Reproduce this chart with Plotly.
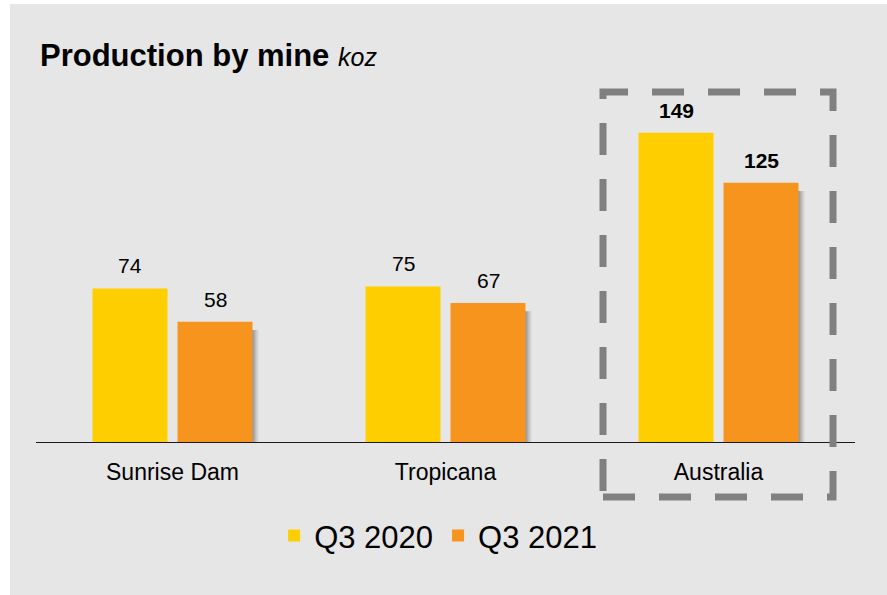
import plotly.graph_objects as go

categories = ["Sunrise Dam", "Tropicana", "Australia"]
q3_2020 = [74, 75, 149]
q3_2021 = [58, 67, 125]
series_names = ["Q3 2020", "Q3 2021"]
highlight = "Australia"

YELLOW = "#FFCE00"
ORANGE = "#F7941E"
BG = "#E6E6E6"
FONT = "Liberation Sans, Arial, sans-serif"

# geometry (category units: 1 category = 273 px)
CAT_PX = 273.0
BAR_W = 75 / CAT_PX
OFF_A = -80 / CAT_PX
OFF_B = 5 / CAT_PX

xs = list(range(len(categories)))

fig = go.Figure()

# soft shadow behind the orange bars
for dx, alpha in [(6, 0.10), (4, 0.16), (2, 0.22)]:
    fig.add_trace(go.Bar(
        x=xs, y=[v - 2.5 for v in q3_2021], base=-1.5,
        width=BAR_W, offset=OFF_B + dx / CAT_PX,
        marker=dict(color=f"rgba(60,60,60,{alpha})", line=dict(width=0)),
        showlegend=False, hoverinfo="skip"))

fig.add_trace(go.Bar(
    x=xs, y=q3_2020, name=series_names[0], width=BAR_W, offset=OFF_A,
    marker=dict(color=YELLOW, line=dict(width=0))))
fig.add_trace(go.Bar(
    x=xs, y=q3_2021, name=series_names[1], width=BAR_W, offset=OFF_B,
    marker=dict(color=ORANGE, line=dict(width=0))))

annotations = []
for i, cat in enumerate(categories):
    for vals, off in [(q3_2020, OFF_A), (q3_2021, OFF_B)]:
        v = vals[i]
        txt = f"<b>{v}</b>" if cat == highlight else str(v)
        annotations.append(dict(
            x=i + off + BAR_W / 2, y=v, xref="x", yref="y",
            text=txt, showarrow=False, yanchor="bottom", yshift=9,
            font=dict(size=21, color="#000000", family=FONT)))

hi = categories.index(highlight)
shapes = [
    # white strips at the left and top edge of the panel
    dict(type="rect", xref="paper", yref="paper",
         x0=-0.05, x1=-0.0317, y0=-0.5, y1=1.35,
         fillcolor="white", line=dict(width=0), layer="below"),
    dict(type="rect", xref="paper", yref="paper",
         x0=-0.05, x1=1.05, y0=1.319, y1=1.35,
         fillcolor="white", line=dict(width=0), layer="below"),
    # dashed highlight box
    dict(type="rect", xref="x", yref="paper",
         x0=hi - 115.5 / CAT_PX, x1=hi + 114.5 / CAT_PX,
         y0=-0.166, y1=1.054,
         line=dict(color="#808080", width=7, dash="32px,24px"),
         fillcolor="rgba(0,0,0,0)", layer="above"),
]

fig.update_layout(
    width=887, height=595,
    margin=dict(l=36, r=32, t=110, b=153, autoexpand=False),
    paper_bgcolor=BG, plot_bgcolor="rgba(0,0,0,0)",
    barmode="overlay",
    font=dict(family=FONT, color="#000000"),
    title=dict(
        text="<b>Production by mine</b> <i><span style='font-size:25px'>koz</span></i>",
        x=40 / 887, xanchor="left", xref="container",
        y=1 - 55 / 595, yanchor="middle", yref="container",
        font=dict(size=31, family=FONT, color="#000000")),
    xaxis=dict(
        tickmode="array", tickvals=xs, ticktext=categories,
        range=[-0.5, 2.5], showgrid=False, zeroline=False,
        showline=True, linecolor="#1a1a1a", linewidth=1,
        ticks="", ticklabelstandoff=9, tickangle=0,
        tickfont=dict(size=23, family=FONT, color="#000000")),
    yaxis=dict(range=[0, 160], visible=False, showgrid=False, zeroline=False),
    legend=dict(
        orientation="h", x=0.491, xanchor="center",
        y=-0.283, yanchor="middle",
        font=dict(size=31, family=FONT, color="#000000"),
        bgcolor="rgba(0,0,0,0)", itemwidth=30, traceorder="normal"),
    annotations=annotations,
    shapes=shapes,
    showlegend=True,
)

fig.write_html("out.html", config={"displayModeBar": False},
               post_script="document.body.style.margin='0';")
